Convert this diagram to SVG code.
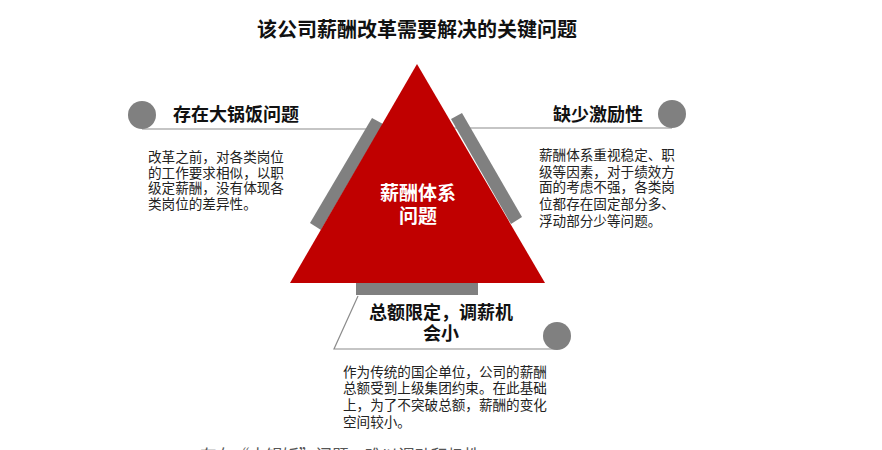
<svg xmlns="http://www.w3.org/2000/svg" width="882" height="450" viewBox="0 0 882 450">
<style>
text{font-family:"Noto Sans CJK SC","Noto Sans",sans-serif;}
.title{font-size:20px;font-weight:bold;fill:#111;}
.head{font-size:18px;font-weight:bold;fill:#111;}
.body{font-size:13.6px;fill:#222;}
.bar{fill:#808080;}
.dot{fill:#808080;}
.rule{stroke:#8c8c8c;stroke-width:1.2;fill:none;}
.center{font-size:19px;font-weight:bold;fill:#fff;}
</style>
<rect width="882" height="450" fill="#fff"/>
<text class="title" x="417" y="37" text-anchor="middle">该公司薪酬改革需要解决的关键问题</text>

<g id="connectors">
<line class="rule" x1="142" y1="129" x2="372" y2="129"/>
<line class="rule" x1="445" y1="128" x2="672" y2="128"/>
<polyline class="rule" points="358,296 334,349 557,349"/>
</g>

<g id="bars">
<polygon class="bar" points="372,118 383,124 321,230 310,223"/>
<polygon class="bar" points="451,119 462,113 522,217 511,224"/>
<rect class="bar" x="356" y="283" width="122" height="12"/>
</g>

<g id="core">
<polygon points="417,64 290,283 545,283" fill="#C00000"/>
<text class="center" text-anchor="middle"><tspan x="418" y="200">薪酬体系</tspan><tspan x="418" y="223">问题</tspan></text>
</g>

<g id="node-left">
<circle class="dot" cx="142" cy="115" r="14"/>
<text class="head" x="173" y="121">存在大锅饭问题</text>
<text class="body"><tspan x="148" y="162">改革之前，对各类岗位</tspan><tspan x="148" y="178">的工作要求相似，以职</tspan><tspan x="148" y="193">级定薪酬，没有体现各</tspan><tspan x="148" y="209">类岗位的差异性。</tspan></text>
</g>

<g id="node-right">
<circle class="dot" cx="672" cy="114" r="14"/>
<text class="head" x="553" y="121">缺少激励性</text>
<text class="body"><tspan x="539" y="160">薪酬体系重视稳定、职</tspan><tspan x="539" y="177">级等因素，对于绩效方</tspan><tspan x="539" y="192">面的考虑不强，各类岗</tspan><tspan x="539" y="209">位都存在固定部分多、</tspan><tspan x="539" y="226">浮动部分少等问题。</tspan></text>
</g>

<g id="node-bottom">
<circle class="dot" cx="557" cy="336" r="14"/>
<text class="head" text-anchor="middle"><tspan x="441" y="319">总额限定，调薪机</tspan><tspan x="441" y="340">会小</tspan></text>
<text class="body"><tspan x="343" y="377">作为传统的国企单位，公司的薪酬</tspan><tspan x="343" y="393">总额受到上级集团约束。在此基础</tspan><tspan x="343" y="410">上，为了不突破总额，薪酬的变化</tspan><tspan x="343" y="427">空间较小。</tspan></text>
</g>

<text x="200" y="462" font-size="16.5" fill="#555">存在“大锅饭”问题，难以调动积极性</text>
</svg>
